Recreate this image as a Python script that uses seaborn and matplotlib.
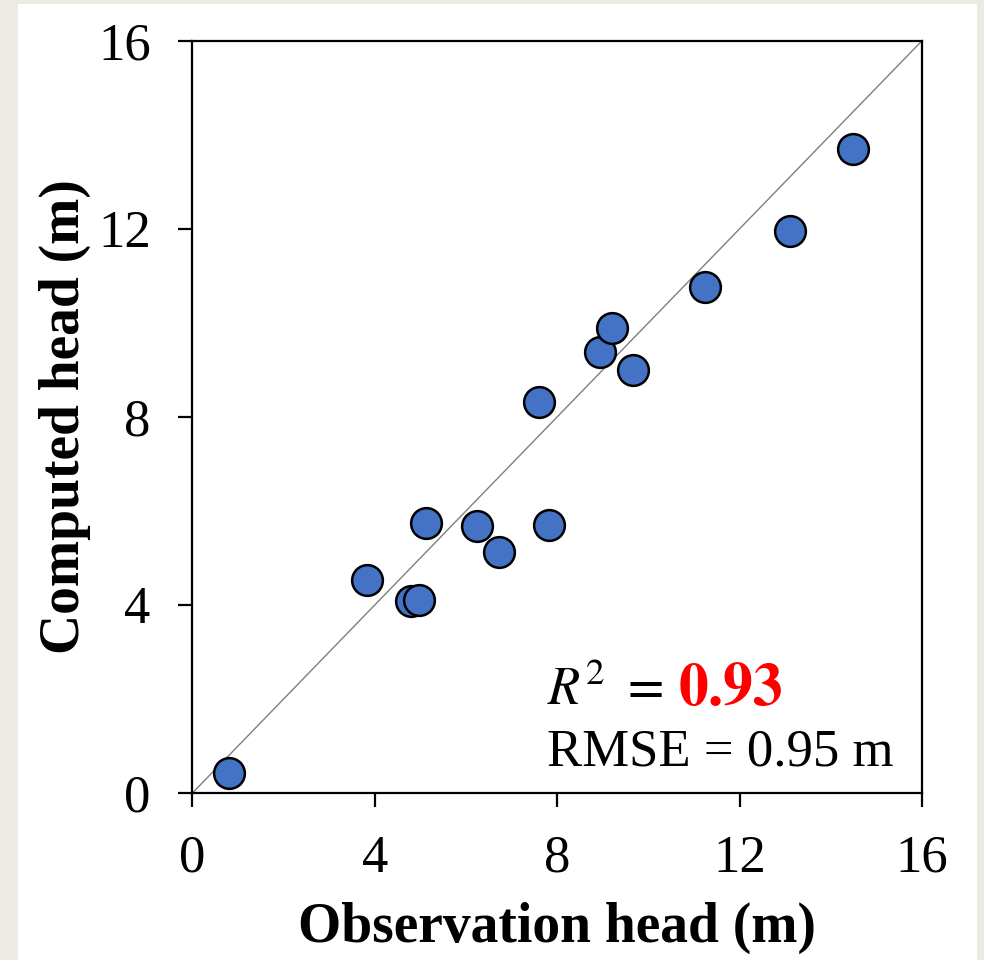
import matplotlib
matplotlib.use("Agg")
import matplotlib.pyplot as plt
import seaborn as sns
import pandas as pd
from matplotlib.patches import Rectangle

# observed vs computed heads (m)
observed = [0.81, 3.83, 4.79, 4.97, 5.12, 6.25, 6.73, 7.82, 7.60,
            8.94, 9.21, 9.67, 11.24, 13.10, 14.48]
computed = [0.42, 4.53, 4.09, 4.11, 5.74, 5.67, 5.12, 5.70, 8.32,
            9.38, 9.90, 9.00, 10.76, 11.96, 13.70]
ticks = [0, 4, 8, 12, 16]
r2_text = "0.93"
rmse_text = "RMSE = 0.95 m"

df = pd.DataFrame({"observed": observed, "computed": computed})

sns.set_style("ticks")
plt.rcParams["font.family"] = ["Liberation Serif", "DejaVu Serif"]
plt.rcParams["mathtext.fontset"] = "stix"
plt.rcParams["text.color"] = "black"
plt.rcParams["axes.labelcolor"] = "black"

fig = plt.figure(figsize=(9.84, 9.6), dpi=100)
fig.patch.set_facecolor("#edeae4")
# white panel on the beige page
fig.patches.append(Rectangle((18 / 984, 0), 959 / 984, 956 / 960,
                             transform=fig.transFigure, facecolor="white",
                             edgecolor="none", zorder=-5))
ax = fig.add_axes([0.1956, 0.174, 0.7414, 0.7836])
ax.set_facecolor("white")

# 1:1 line
ax.plot([0, 16], [0, 16], color="#7f7f7f", linewidth=1.0, zorder=1)
sns.scatterplot(data=df, x="observed", y="computed", ax=ax, s=490,
                color="#4472c4", edgecolor="black", linewidth=1.8, zorder=3)

ax.set_xlim(0, 16)
ax.set_ylim(0, 16)
ax.set_xticks(ticks)
ax.set_yticks(ticks)
for side in ["top", "right", "bottom", "left"]:
    ax.spines[side].set_visible(True)
    ax.spines[side].set_linewidth(1.6)
    ax.spines[side].set_color("black")
ax.tick_params(axis="both", direction="out", length=10, width=1.6,
               labelsize=38, colors="black")
ax.tick_params(axis="y", pad=20)
ax.tick_params(axis="x", pad=20)

ax.set_xlabel("Observation head (m)", fontsize=40, fontweight="bold",
              labelpad=14)
ax.set_ylabel("Computed head (m)", fontsize=40, fontweight="bold",
              labelpad=5)

ax.text(0.486, 0.117, r"$R^2$ $=$ ", transform=ax.transAxes, fontsize=38,
        ha="left", va="baseline")
ax.text(0.665, 0.117, r"$\mathbf{" + r2_text + "}$", transform=ax.transAxes,
        fontsize=43, color="#ff0000", ha="left", va="baseline")
ax.text(0.486, 0.037, rmse_text, transform=ax.transAxes, fontsize=38,
        ha="left", va="baseline")

fig.savefig("out.png", dpi=100, facecolor=fig.get_facecolor())
